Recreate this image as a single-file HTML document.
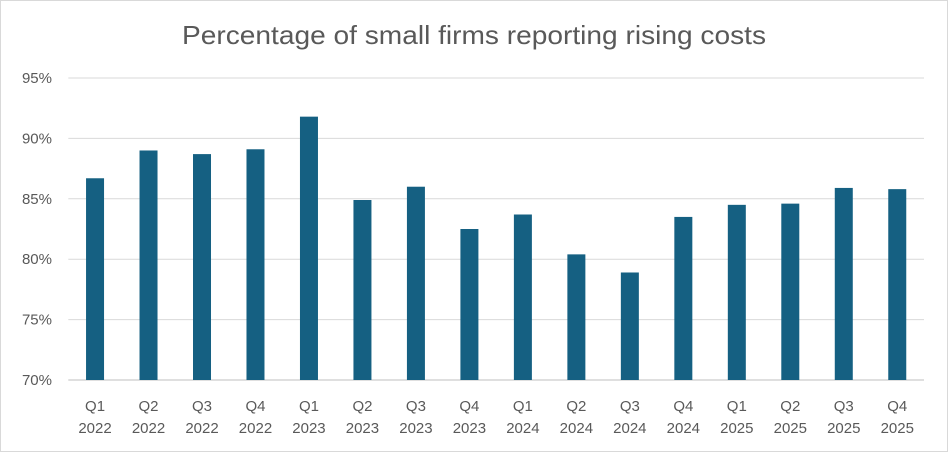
<!DOCTYPE html>
<html><head><meta charset="utf-8"><style>
html,body{margin:0;padding:0;background:#fff;}
body{width:948px;height:452px;overflow:hidden;font-family:"Liberation Sans",sans-serif;}
</style></head><body>
<svg id="chart" width="948" height="452" xmlns="http://www.w3.org/2000/svg">
<rect x="0.5" y="0.5" width="947" height="451" fill="#fff" stroke="#d9d9d9"/>
<text x="474" y="44" text-anchor="middle" font-size="26" textLength="584" lengthAdjust="spacingAndGlyphs" fill="#595959">Percentage of small firms reporting rising costs</text>
<g id="grid"></g><g id="bars"></g><g id="xlabels"></g><g id="ylabels"></g>
</svg>
<script>
const quarters=["Q1","Q2","Q3","Q4","Q1","Q2","Q3","Q4","Q1","Q2","Q3","Q4","Q1","Q2","Q3","Q4"];
const years=["2022","2022","2022","2022","2023","2023","2023","2023","2024","2024","2024","2024","2025","2025","2025","2025"];
const values=[86.7,89.0,88.7,89.1,91.8,84.9,86.0,82.5,83.7,80.4,78.9,83.5,84.5,84.6,85.9,85.8];
const yTicks=[70,75,80,85,90,95];
const NS="http://www.w3.org/2000/svg";
const x0=68.3,x1=924,yMin=70,yMax=95,py0=380,py1=78;
const band=(x1-x0)/values.length;
function y(v){return py0-(v-yMin)/(yMax-yMin)*(py0-py1);}
function xc(i){return x0+band*(i+0.5);}
function mk(tag,attrs,parent){const e=document.createElementNS(NS,tag);for(const k in attrs)e.setAttribute(k,attrs[k]);document.getElementById(parent).appendChild(e);return e;}
yTicks.forEach(t=>{
  const l=mk("line",{x1:x0,x2:x1,y1:y(t),y2:y(t),stroke:t===70?"#bfbfbf":"#d9d9d9","stroke-width":1},"grid");
  
  
  const tx=mk("text",{x:52,y:y(t)+5,"text-anchor":"end","font-size":15,fill:"#595959"},"ylabels");
  tx.textContent=t+"%";
  
  
});
values.forEach((v,i)=>{
  const bw=18;
  const r=mk("rect",{x:xc(i)-bw/2,y:y(v),width:bw,height:py0-y(v),fill:"#156082"},"bars");
  
  
  const t1=mk("text",{x:xc(i),y:411,"text-anchor":"middle","font-size":15,fill:"#595959"},"xlabels");
  t1.textContent=quarters[i];
  
  
  const t2=mk("text",{x:xc(i),y:433,"text-anchor":"middle","font-size":15,fill:"#595959"},"xlabels");
  t2.textContent=years[i];
  
  
});
</script>
</body></html>
